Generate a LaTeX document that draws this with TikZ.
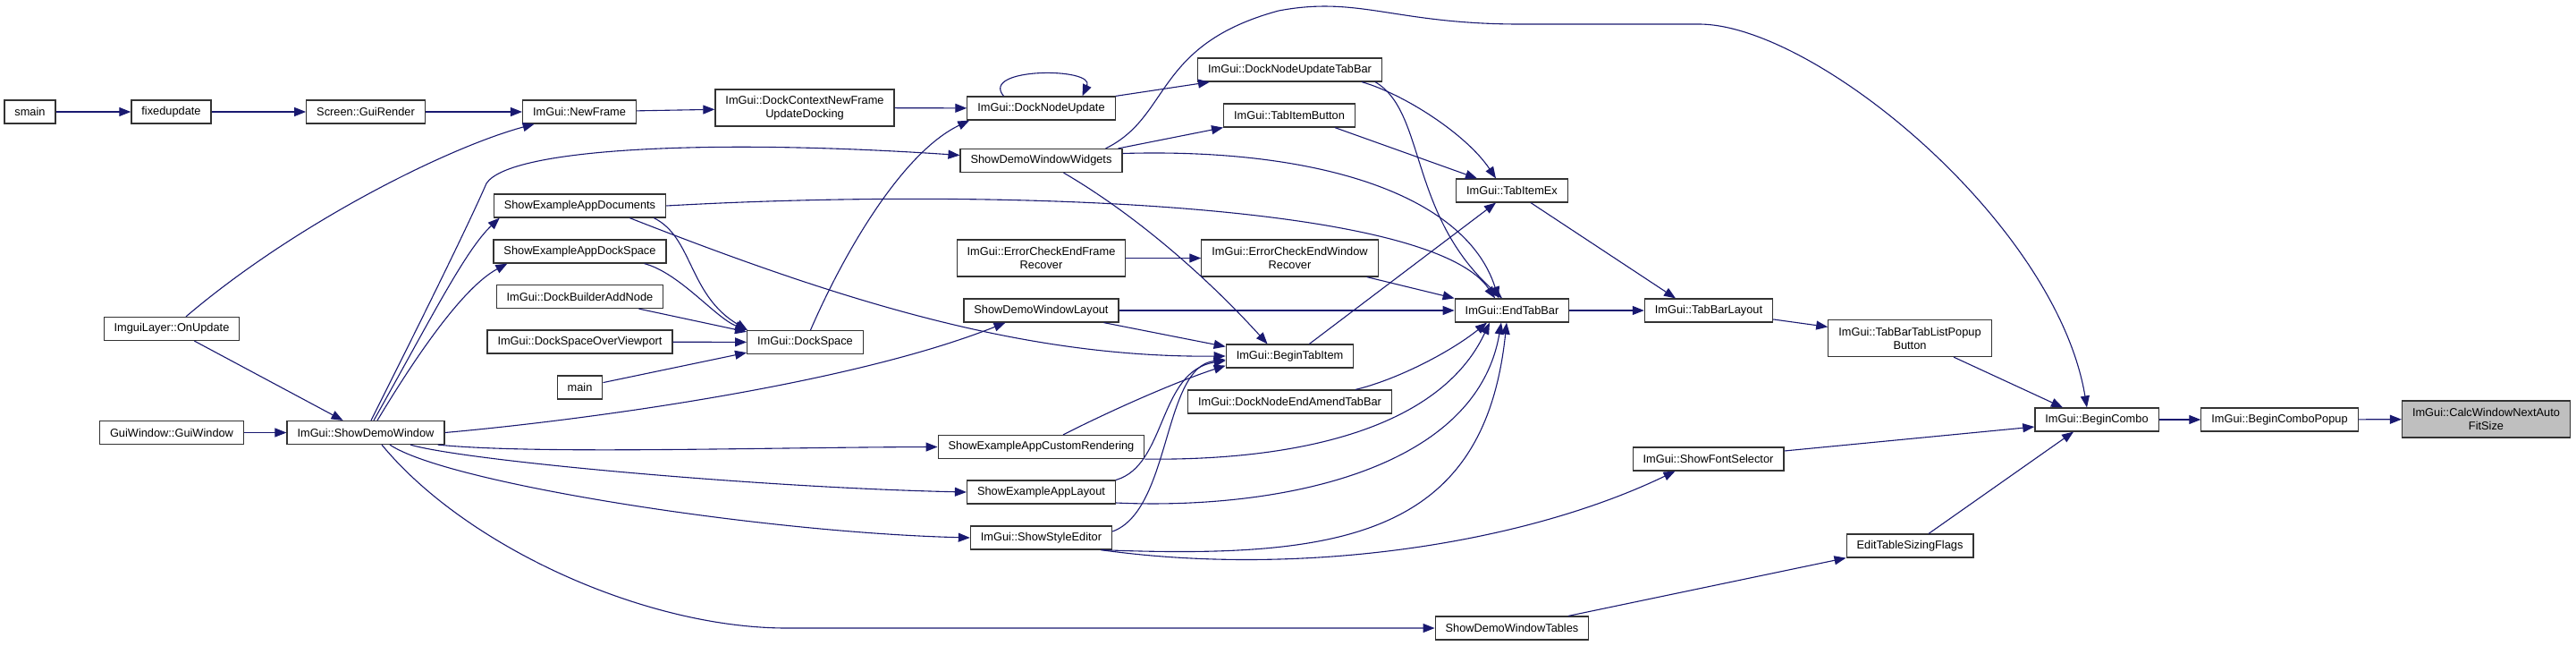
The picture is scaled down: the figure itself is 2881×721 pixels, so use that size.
\documentclass[tikz,border=0pt]{standalone}
\usepackage{fontspec}
\setmainfont{Liberation Sans}
\usetikzlibrary{arrows.meta}
\definecolor{edgeblue}{RGB}{25,25,112}
\tikzstyle{fn}=[rectangle,draw=black!80,line width=1.2pt,fill=white,minimum height=26pt,inner xsep=11.5pt,inner ysep=2pt,align=center,font=\fontsize{12.8}{15}\selectfont]
\tikzstyle{fntwo}=[fn,minimum height=41pt]
\tikzstyle{fnroot}=[fntwo,fill=black!25]
\tikzstyle{call}=[-{Triangle[length=13pt,width=10pt]},draw=edgeblue,line width=1.1pt]

\begin{document}
\begin{tikzpicture}[x=1pt,y=-1pt]
\useasboundingbox (0,0) rectangle (2881,721);
\node[fn] (smain) at (33.5,125) {smain};
\node[fn] (fixedupdate) at (191.5,125) {fixedupdate};
\node[fn] (guirender) at (409,125) {Screen::GuiRender};
\node[fn] (newframe) at (648,125) {ImGui::NewFrame};
\node[fn] (onupdate) at (192,367.5) {ImguiLayer::OnUpdate};
\node[fn] (guiwindow) at (192,483.5) {GuiWindow::GuiWindow};
\node[fn] (demowin) at (409,483.5) {ImGui::ShowDemoWindow};
\node[fn] (appdocs) at (648.5,230) {ShowExampleAppDocuments};
\node[fn] (appdock) at (648.5,281) {ShowExampleAppDockSpace};
\node[fn] (addnode) at (648.5,331.5) {ImGui::DockBuilderAddNode};
\node[fn] (overvp) at (648.5,382) {ImGui::DockSpaceOverViewport};
\node[fn] (mainfn) at (648.5,433) {main};
\node[fntwo] (dockctx) at (900,120.5) {ImGui::DockContextNewFrame\\UpdateDocking};
\node[fn] (dockspace) at (900.5,382.5) {ImGui::DockSpace};
\node[fn] (nodeupd) at (1164.5,121) {ImGui::DockNodeUpdate};
\node[fn] (widgets) at (1164.5,179.5) {ShowDemoWindowWidgets};
\node[fntwo] (errframe) at (1164.5,288.5) {ImGui::ErrorCheckEndFrame\\Recover};
\node[fn] (layout) at (1164.5,347) {ShowDemoWindowLayout};
\node[fn] (customr) at (1164.5,499.5) {ShowExampleAppCustomRendering};
\node[fn] (applayout) at (1164.5,550) {ShowExampleAppLayout};
\node[fn] (styleed) at (1164.5,601) {ImGui::ShowStyleEditor};
\node[fn] (tabbarupd) at (1442.5,78) {ImGui::DockNodeUpdateTabBar};
\node[fn] (tabbtn) at (1442,129) {ImGui::TabItemButton};
\node[fntwo] (errwin) at (1442.5,288.5) {ImGui::ErrorCheckEndWindow\\Recover};
\node[fn] (begintab) at (1442.5,398) {ImGui::BeginTabItem};
\node[fn] (amend) at (1442.5,449) {ImGui::DockNodeEndAmendTabBar};
\node[fn] (tabitemex) at (1691,213) {ImGui::TabItemEx};
\node[fn] (endtabbar) at (1691,347) {ImGui::EndTabBar};
\node[fn] (tables) at (1691,702) {ShowDemoWindowTables};
\node[fn] (tblayout) at (1911,347) {ImGui::TabBarLayout};
\node[fn] (fontsel) at (1910.5,513) {ImGui::ShowFontSelector};
\node[fntwo] (popupbtn) at (2136,378) {ImGui::TabBarTabListPopup\\Button};
\node[fn] (sizing) at (2136,610) {EditTableSizingFlags};
\node[fn] (combo) at (2345,469) {ImGui::BeginCombo};
\node[fn] (combopopup) at (2549.5,469) {ImGui::BeginComboPopup};
\node[fnroot] (calcfit) at (2780.5,468.5) {ImGui::CalcWindowNextAuto\\FitSize};

\draw[call] (smain) -- (fixedupdate);
\draw[call] (fixedupdate) -- (guirender);
\draw[call] (guirender) -- (newframe);
\draw[call] (newframe) -- (dockctx);
\draw[call] (dockctx) -- (nodeupd);
\draw[call] (onupdate) .. controls (330,250) and (500,165) .. (newframe);
\draw[call] (onupdate) -- (demowin);
\draw[call] (guiwindow) -- (demowin);
\draw[call] ([xshift=9pt]demowin.north) .. controls (480,360) and (520,280) .. ([xshift=7pt]appdocs.south west);
\draw[call] ([xshift=13pt]demowin.north) .. controls (470,390) and (520,320) .. ([xshift=16pt]appdock.south west);
\draw[call] ([xshift=6pt]demowin.north) .. controls (460,380) and (520,260) .. (544,205) .. controls (570,165) and (800,155) .. ([yshift=6pt]widgets.west);
\draw[call] (demowin.east) .. controls (650,470) and (950,430) .. ([xshift=-40pt]layout.south);
\draw[call] ([xshift=-8pt]demowin.south east) .. controls (600,508) and (850,500) .. (customr.west);
\draw[call] ([xshift=50pt]demowin.south) .. controls (520,515) and (850,545) .. (applayout.west);
\draw[call] ([xshift=27pt]demowin.south) .. controls (500,540) and (850,595) .. (styleed.west);
\draw[call] ([xshift=18pt]demowin.south) .. controls (520,610) and (720,702) .. (880,702) -- (tables.west);
\draw[call] ([xshift=-14pt]appdocs.south east) .. controls (775,265) and (770,330) .. ([xshift=1pt]dockspace.north west);
\draw[call] ([xshift=-25pt]appdock.south east) .. controls (760,305) and (800,355) .. (dockspace.north west);
\draw[call] ([xshift=-28pt]addnode.south east) -- ([yshift=-2pt]dockspace.north west);
\draw[call] (overvp) -- (dockspace);
\draw[call] (mainfn) -- ([yshift=2pt]dockspace.south west);
\draw[call] ([xshift=-41pt]appdocs.south east) .. controls (950,340) and (1150,400) .. (begintab.west);
\draw[call] (appdocs.east) .. controls (1100,210) and (1600,225) .. ([xshift=-19pt]endtabbar.north);
\draw[call] ([xshift=6pt]dockspace.north) .. controls (945,280) and (1010,170) .. ([xshift=3pt]nodeupd.south west);
\draw[call] ([xshift=-42pt]nodeupd.north) .. controls (1095,75) and (1225,75) .. ([xshift=46pt]nodeupd.north);
\draw[call] (nodeupd.north east) -- ([xshift=14pt]tabbarupd.south west);
\draw[call] ([xshift=-5pt]widgets.north east) -- (tabbtn.south west);
\draw[call] ([xshift=-19pt]widgets.north east) .. controls (1310,130) and (1290,50) .. (1430,12) .. controls (1520,-5) and (1560,27) .. (1700,27) -- (1900,27) .. controls (2030,27) and (2300,250) .. ([xshift=-11pt]combo.north);
\draw[call] ([yshift=8pt]widgets.east) .. controls (1480,165) and (1640,220) .. ([xshift=-15pt]endtabbar.north);
\draw[call] ([xshift=25pt]widgets.south) .. controls (1270,240) and (1350,310) .. ([xshift=-25pt]begintab.north);
\draw[call] (layout) -- (endtabbar);
\draw[call] ([xshift=70pt]layout.south) -- ([yshift=-3pt]begintab.north west);
\draw[call] ([xshift=-23pt]tabbarupd.south east) .. controls (1570,105) and (1640,150) .. ([xshift=-18pt]tabitemex.north);
\draw[call] ([xshift=-8pt]tabbarupd.south east) .. controls (1595,125) and (1575,240) .. ([xshift=-11pt]endtabbar.north);
\draw[call] ([xshift=-23pt]tabbtn.south east) -- ([xshift=-39pt]tabitemex.north);
\draw[call] ([xshift=-50pt]begintab.north east) -- ([xshift=-18pt]tabitemex.south);
\draw[call] (errframe) -- (errwin);
\draw[call] ([xshift=-13pt]errwin.south east) -- (endtabbar.north west);
\draw[call] ([xshift=21pt]tabitemex.south) -- ([xshift=-37pt]tblayout.north);
\draw[call] (endtabbar) -- (tblayout);
\draw[call] (tblayout) -- (popupbtn);
\draw[call] ([xshift=49pt]popupbtn.south) -- ([xshift=-38pt]combo.north);
\draw[call] ([yshift=9pt]fontsel.east) -- ([yshift=-8pt]combo.west);
\draw[call] ([xshift=21pt]sizing.north) -- ([xshift=-26pt]combo.south);
\draw[call] ([xshift=63pt]tables.north) -- (sizing.south west);
\draw[call] (combo) -- (combopopup);
\draw[call] (combopopup) -- (calcfit);
\draw[call] ([xshift=24.5pt]customr.north) .. controls (1250,455) and (1320,425) .. ([yshift=3pt]begintab.south west);
\draw[call] (applayout.north east) .. controls (1305,520) and (1295,415) .. ([yshift=-5pt]begintab.west);
\draw[call] ([yshift=7pt]styleed.east) .. controls (1310,570) and (1300,410) .. ([yshift=-4pt]begintab.west);
\draw[call] (customr.south east) .. controls (1450,515) and (1610,480) .. ([xshift=-25pt]endtabbar.south);
\draw[call] ([yshift=-12pt]applayout.east) .. controls (1420,570) and (1650,530) .. ([xshift=-12pt]endtabbar.south);
\draw[call] ([xshift=-13pt]styleed.south east) .. controls (1500,625) and (1660,600) .. ([xshift=-6pt]endtabbar.south);
\draw[call] ([xshift=-13pt]styleed.south east) .. controls (1450,645) and (1700,610) .. ([xshift=-37pt]fontsel.south);
\draw[call] ([xshift=-41pt]amend.north east) .. controls (1560,425) and (1620,395) .. ([xshift=-28pt]endtabbar.south);
\end{tikzpicture}
\end{document}
